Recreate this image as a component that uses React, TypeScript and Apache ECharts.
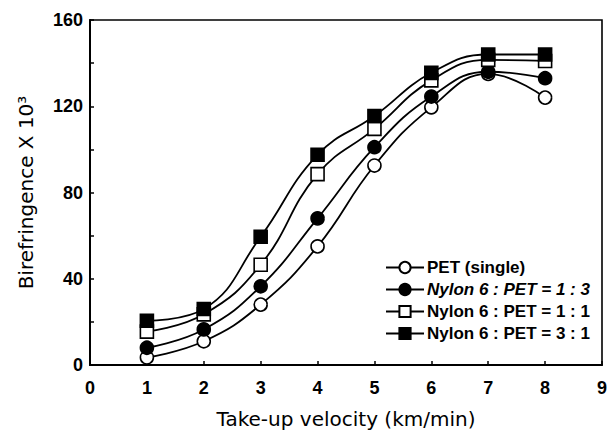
import React, { useEffect, useRef } from "react";
import * as echarts from "echarts";

const velocities = [1, 2, 3, 4, 5, 6, 7, 8];
const seriesNames = [
  "PET (single)",
  "Nylon 6 : PET = 1 : 3",
  "Nylon 6 : PET = 1 : 1",
  "Nylon 6 : PET = 3 : 1",
];
const petSingle = [3.5, 11, 28, 55, 92.5, 119.5, 135, 124];
const nylon13 = [8, 16.5, 36.5, 68, 101, 124.5, 136, 133];
const nylon11 = [15.5, 23.5, 46.5, 88.5, 109.5, 132, 141.5, 141];
const nylon31 = [20.5, 26, 59.5, 97.5, 115.5, 135.5, 144, 144];
const yTicks = [0, 40, 80, 120, 160];
const xTicks = [0, 1, 2, 3, 4, 5, 6, 7, 8, 9];

const FONT = "'Liberation Sans', Arial, sans-serif";
const TITLE_FONT = "'DejaVu Sans', sans-serif";

export default function App() {
  const ref = useRef<HTMLDivElement>(null);
  useEffect(() => {
    if (!ref.current) return;
    const chart = echarts.init(ref.current, undefined, { renderer: "svg" });
    const allValues = [petSingle, nylon13, nylon11, nylon31];
    const symbols = ["circle", "circle", "rect", "rect"];
    const fills = ["#fff", "#000", "#fff", "#000"];
    const series = allValues.map((vals, i) => ({
      name: seriesNames[i],
      type: "line",
      data: vals.map((v, j) => [velocities[j], v]),
      smooth: 0.45,
      symbol: symbols[i],
      symbolSize: 13,
      showAllSymbol: true,
      lineStyle: { color: "#000", width: 1.8 },
      itemStyle: { color: fills[i], borderColor: "#000", borderWidth: 1.6 },
      emphasis: { disabled: true },
    }));
    chart.setOption({
      animation: false,
      backgroundColor: "#fff",
      grid: {
        left: 90,
        right: 9,
        top: 20,
        bottom: 67,
        show: true,
        borderColor: "#000",
        borderWidth: 1.6,
        outerBoundsMode: "none",
      },
      legend: {
        orient: "vertical",
        left: 380,
        top: 254,
        itemWidth: 38,
        itemHeight: 14,
        itemGap: 5,
        data: seriesNames,
        formatter: (name: string) =>
          name === seriesNames[1] ? `{it|${name}}` : name,
        textStyle: {
          fontFamily: FONT,
          fontSize: 17,
          fontWeight: "bold",
          color: "#000",
          padding: [0, 0, 0, -2],
          rich: {
            it: {
              fontFamily: FONT,
              fontSize: 17,
              fontWeight: "bold",
              fontStyle: "italic",
              color: "#000",
            },
          },
        },
      },
      xAxis: {
        type: "value",
        min: xTicks[0],
        max: xTicks[xTicks.length - 1],
        interval: 1,
        name: "Take-up velocity (km/min)",
        nameLocation: "middle",
        nameGap: 44,
        nameTextStyle: { fontFamily: TITLE_FONT, fontSize: 20, color: "#000" },
        axisLine: { show: true, lineStyle: { color: "#000", width: 2 } },
        axisTick: { show: true, inside: true, length: 4, lineStyle: { color: "#000", width: 1.5 } },
        axisLabel: {
          margin: 14,
          fontFamily: FONT,
          fontSize: 18,
          fontWeight: "bold",
          color: "#000",
        },
        splitLine: { show: false },
      },
      yAxis: {
        type: "value",
        min: yTicks[0],
        max: yTicks[yTicks.length - 1],
        interval: 20,
        name: "Birefringence X 10³",
        nameLocation: "middle",
        nameGap: 54,
        nameTextStyle: { fontFamily: TITLE_FONT, fontSize: 20, color: "#000" },
        axisLine: { show: true, lineStyle: { color: "#000", width: 2 } },
        axisTick: { show: true, inside: true, length: 4, lineStyle: { color: "#000", width: 1.5 } },
        axisLabel: {
          margin: 7,
          fontFamily: FONT,
          fontSize: 18,
          fontWeight: "bold",
          color: "#000",
          formatter: (v: number) => (yTicks.includes(v) ? String(v) : ""),
        },
        splitLine: { show: false },
      },
      series,
    });
    return () => chart.dispose();
  }, []);
  return (
    <div
      ref={ref}
      style={{ position: "absolute", left: 0, top: 0, width: 611, height: 432 }}
    />
  );
}
